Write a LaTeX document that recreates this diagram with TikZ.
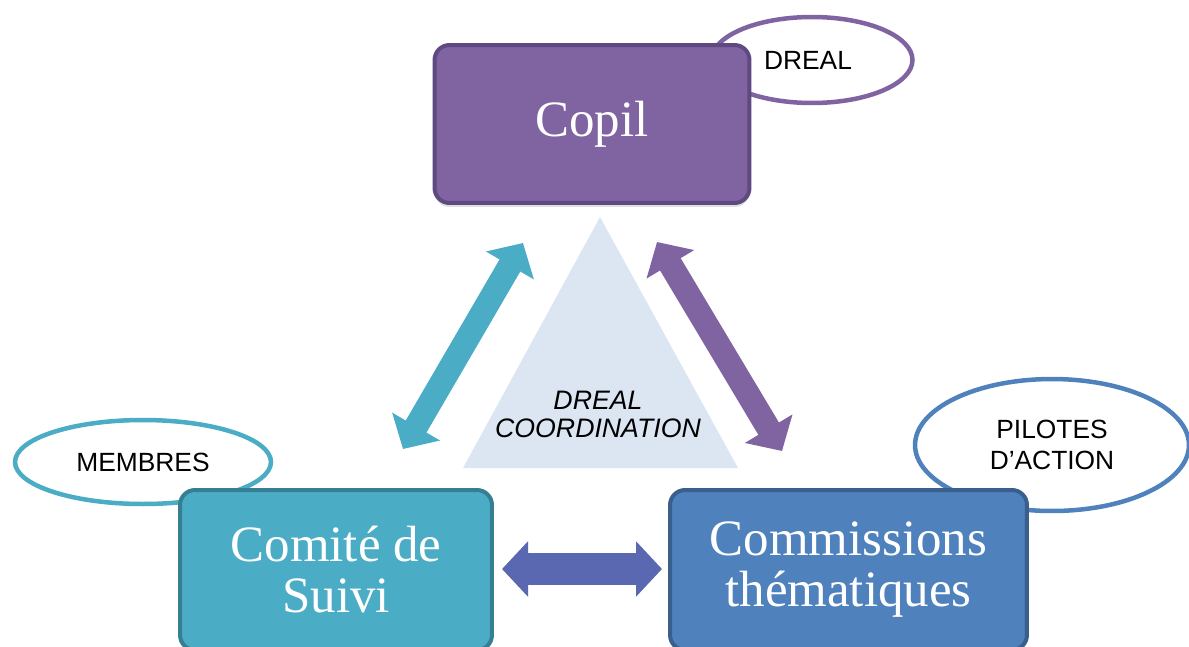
\documentclass[tikz,border=0pt]{standalone}
\usepackage{fontspec}
\setmainfont{Liberation Serif}
\newfontfamily\labelfont{Liberation Sans}
\usetikzlibrary{arrows.meta, shapes.geometric, shadows}

\definecolor{copilfill}{HTML}{8064A2}
\definecolor{copilline}{HTML}{5E4A80}
\definecolor{suivifill}{HTML}{4BACC6}
\definecolor{suiviline}{HTML}{357E93}
\definecolor{commfill}{HTML}{4F81BD}
\definecolor{commline}{HTML}{3A5F8C}
\definecolor{pale}{HTML}{DCE6F2}
\definecolor{linkblue}{HTML}{5A67B1}

\begin{document}
\begin{tikzpicture}[x = 0.02cm, y = -0.02cm,
    box/.style = {shape = rectangle, rounded corners = 0.3cm, line width = 0.08cm,
                  text = white, align = center, inner sep = 0pt,
                  font = \fontsize{29}{29}\selectfont,
                  drop shadow = {opacity = 0.25, shadow xshift = 0pt, shadow yshift = -0.08cm}},
    bubble/.style = {shape = ellipse, line width = 0.09cm, fill = white, align = center,
                     inner sep = 0pt, font = \labelfont\fontsize{15}{17.5}\selectfont},
    fat/.style = {line width = #1,
                  {Triangle[width = 1.08cm, length = 0.52cm]}-{Triangle[width = 1.08cm, length = 0.52cm]}}]
  \useasboundingbox (0, 0) rectangle (1189, 646);

  \fill[pale] (600, 217) -- (738, 468) -- (463, 468) -- cycle;
  \node (coord) at (598, 414) [font = \labelfont\itshape\fontsize{15.2}{16}\selectfont, align = center]
        {DREAL\\COORDINATION};

  \node (dreal)   at (812, 60)   [bubble, draw = copilfill, minimum width = 4.02cm, minimum height = 1.72cm] {};
  \node (membres) at (143, 462)  [bubble, draw = suivifill, minimum width = 5.12cm, minimum height = 1.68cm] {MEMBRES};
  \node (pilotes) at (1052, 445) [bubble, draw = commfill, minimum width = 5.48cm, minimum height = 2.64cm] {PILOTES\\D’ACTION};

  \node (copil) at (592, 124) [box, fill = copilfill, draw = copilline,
                               minimum width = 6.3cm, minimum height = 3.16cm] {Copil};
  \node (suivi) at (336, 570) [box, fill = suivifill, draw = suiviline,
                               minimum width = 6.24cm, minimum height = 3.2cm] {Comité de\\Suivi};
  \node (comm)  at (848.5, 570) [box, fill = commfill, draw = commline,
                                 minimum width = 7.14cm, minimum height = 3.2cm] {Commissions\\thématiques};

  \node [font = \labelfont\fontsize{15}{16}\selectfont] at (dreal.center) [xshift = -0.08cm] {DREAL};

  \coordinate (a1) at (523, 243);
  \coordinate (a2) at (403, 449);
  \coordinate (b1) at (657, 242);
  \coordinate (b2) at (782, 451);
  \coordinate (c1) at (502, 569);
  \coordinate (c2) at (662, 569);
  \draw[fat = 0.48cm, suivifill] (a1) -- (a2);
  \draw[fat = 0.48cm, copilfill] (b1) -- (b2);
  \draw[fat = 0.64cm, linkblue]  (c1) -- (c2);
\end{tikzpicture}
\end{document}
